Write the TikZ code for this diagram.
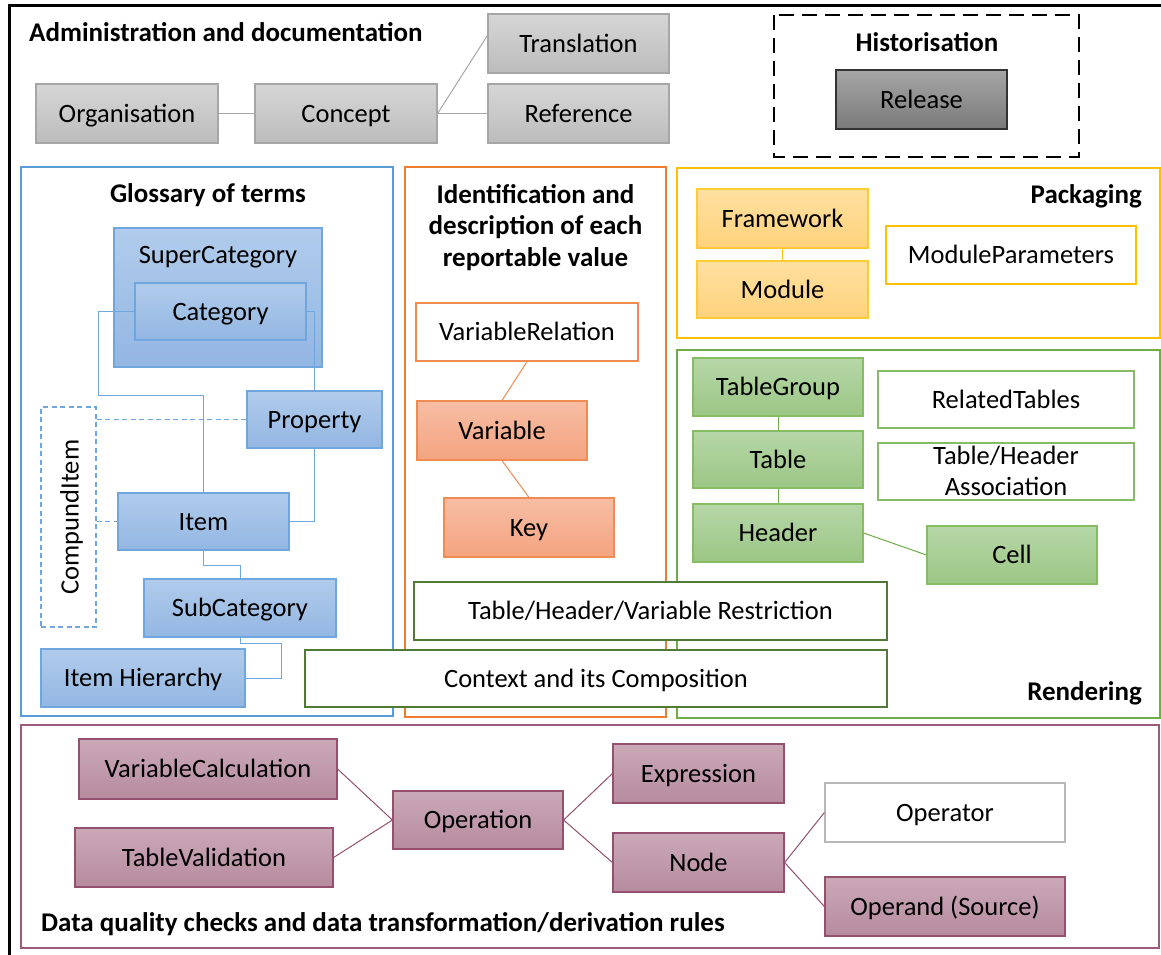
\documentclass[tikz,border=0pt]{standalone}
\usepackage{fontspec}
\setmainfont{Carlito}
\newcommand\boxfont{\fontsize{26.5}{31}\selectfont}
\newcommand\ttlfont{\fontsize{27}{31.5}\selectfont\bfseries}
\definecolor{grayT}{HTML}{D6D6D6}
\definecolor{grayB}{HTML}{BCBCBC}
\definecolor{grayL}{HTML}{A6A6A6}
\definecolor{relT}{HTML}{A5A5A5}
\definecolor{relB}{HTML}{7A7A7A}
\definecolor{blueG}{HTML}{5B9BD5}
\definecolor{blueT}{HTML}{B1CCEC}
\definecolor{blueB}{HTML}{93B6E2}
\definecolor{blueL}{HTML}{6FA6DE}
\definecolor{oraG}{HTML}{ED7D31}
\definecolor{oraT}{HTML}{F7BDA4}
\definecolor{oraB}{HTML}{F4A480}
\definecolor{oraL}{HTML}{F08C52}
\definecolor{yelG}{HTML}{FFC000}
\definecolor{yelT}{HTML}{FFE0A0}
\definecolor{yelB}{HTML}{FFD27C}
\definecolor{yelL}{HTML}{FFCA33}
\definecolor{grnG}{HTML}{70AD47}
\definecolor{grnT}{HTML}{B6D7A8}
\definecolor{grnB}{HTML}{9BC684}
\definecolor{grnL}{HTML}{86BD62}
\definecolor{grnD}{HTML}{507A35}
\definecolor{purG}{HTML}{9C5A7D}
\definecolor{purT}{HTML}{CBA9B7}
\definecolor{purB}{HTML}{B68B9E}
\definecolor{purL}{HTML}{955070}
\tikzset{
  box/.style={draw, inner sep=0pt, font=\boxfont, align=center, line width=1.2pt,
              text height=17pt, text depth=0pt},
  graybox/.style={box, draw=grayL, top color=grayT, bottom color=grayB},
  relbox/.style={box, draw=black!80, top color=relT, bottom color=relB},
  bluebox/.style={box, draw=blueL, top color=blueT, bottom color=blueB},
  orabox/.style={box, draw=oraL, top color=oraT, bottom color=oraB},
  yelbox/.style={box, draw=yelL, top color=yelT, bottom color=yelB},
  grnbox/.style={box, draw=grnL, top color=grnT, bottom color=grnB},
  purbox/.style={box, draw=purL, top color=purT, bottom color=purB},
  whitebox/.style={box, fill=white},
  ttl/.style={inner sep=0pt, font=\ttlfont, align=center, text height=17pt, text depth=0pt},
  txt/.style={inner sep=0pt, font=\boxfont, text height=17pt, text depth=0pt},
  group/.style={line width=2.2pt},
  conn/.style={line width=1pt},
  bdash/.style={conn, draw=blueL, dash pattern=on 5pt off 3.5pt},
}
\begin{document}
\begin{tikzpicture}[x=1pt,y=-1pt]
\useasboundingbox (0,0) rectangle (1161,954);
\fill[white] (0,0) rectangle (1161,954);
% outer frame
\draw[line width=3pt] (9,5) rectangle (1175,968);

% ---------- Administration ----------
\node[ttl, anchor=west] (admtitle) at (29,33) {Administration and documentation};
\node[graybox, minimum width=182, minimum height=59] (org) at (127,113.5) {Organisation};
\node[graybox, minimum width=182, minimum height=59] (concept) at (346,113.5) {Concept};
\node[graybox, minimum width=181, minimum height=59] (trans) at (578.5,43.5) {Translation};
\node[graybox, minimum width=181, minimum height=59] (ref) at (578.5,113.5) {Reference};
\draw[conn, grayL] (org.east) -- (concept.west);
\draw[conn, grayL] (concept.east) -- ([yshift=8pt]trans.west);
\draw[conn, grayL] (concept.east) -- (ref.west);

% ---------- Historisation ----------
\draw[line width=2.5pt, dash pattern=on 15pt off 8pt] (774,15) rectangle (1079,157);
\node[ttl] (histtitle) at (927,43) {Historisation};
\node[relbox, minimum width=171, minimum height=59] (release) at (921.5,99.5) {Release};

% ---------- Glossary ----------
\draw[group, blueG] (21,167) rectangle (393,716);
\node[ttl] (glotitle) at (208,194) {Glossary of terms};
\node[bluebox, minimum width=208, minimum height=139] (supcat) at (218,297.5) {};
\node[txt] (supcattxt) at (218,255) {SuperCategory};
\node[bluebox, minimum width=171, minimum height=57] (cat) at (220.5,311.5) {Category};
\node[bluebox, minimum width=135, minimum height=57] (prop) at (314.5,419.5) {Property};
\node[bluebox, minimum width=171, minimum height=57] (item) at (203.5,521.5) {Item};
\node[bluebox, minimum width=192, minimum height=58] (subcat) at (240,608) {SubCategory};
\node[bluebox, minimum width=204, minimum height=58] (ih) at (143,678) {Item Hierarchy};
\node[draw=blueL, line width=1.2pt, dash pattern=on 5pt off 3.5pt, inner sep=0pt,
      minimum width=55, minimum height=220] (ci) at (68.5,517) {};
\node[txt, rotate=90] (citxt) at (70,517) {CompundItem};
\draw[conn, blueL] (cat.west) -- ++(-36,0) -- ++(0,83.5) -| (item.north);
\draw[conn, blueL] (cat.east) -| (prop.north);
\draw[conn, blueL] (prop.south) |- (item.east);
\draw[conn, blueL] (item.south) -- ++(0,15) -| (subcat.north);
\draw[conn, blueL] (subcat.south) -- ++(0,6) -- ++(41,0) |- (ih.east);
\draw[bdash] (ci.east |- prop.west) -- (prop.west);
\draw[bdash] (ci.east |- item.west) -- (item.west);

% ---------- Identification ----------
\draw[group, oraG] (405,167) rectangle (666,717);
\node[ttl, text height=80pt] (idtitle) at (535.5,226) {Identification and\\description of each\\reportable value};
\node[whitebox, draw=oraL, minimum width=222, minimum height=58] (vr) at (527,332) {VariableRelation};
\node[orabox, minimum width=170, minimum height=59] (var) at (502,430.5) {Variable};
\node[orabox, minimum width=170, minimum height=59] (key) at (529,527.5) {Key};
\draw[conn, oraL] (vr.south) -- (var.north);
\draw[conn, oraL] (var.south) -- (key.north);

% ---------- Packaging ----------
\draw[group, yelG] (677,168) rectangle (1160,338);
\node[ttl, anchor=east] (packtitle) at (1142,195) {Packaging};
\node[yelbox, minimum width=171, minimum height=59] (fw) at (782.5,218.5) {Framework};
\node[yelbox, minimum width=171, minimum height=57] (mod) at (782.5,289.5) {Module};
\node[whitebox, draw=yelG, line width=2.6pt, minimum width=250, minimum height=58] (mp) at (1011,255) {ModuleParameters};
\draw[conn, yelG] (fw.south) -- (mod.north);

% ---------- Rendering ----------
\draw[group, grnG] (677,350) rectangle (1160,718);
\node[ttl, anchor=east] (rendtitle) at (1142,692) {Rendering};
\node[grnbox, minimum width=170, minimum height=58] (tg) at (778,387) {TableGroup};
\node[grnbox, minimum width=170, minimum height=57] (tab) at (778,459.5) {Table};
\node[grnbox, minimum width=170, minimum height=58] (hdr) at (778,533) {Header};
\node[whitebox, draw=grnL, minimum width=256, minimum height=57] (rt) at (1006,399.5) {RelatedTables};
\node[whitebox, draw=grnL, minimum width=256, minimum height=57, text height=48pt] (tha) at (1006,471.5) {Table/Header\\Association};
\node[grnbox, minimum width=170, minimum height=58] (cell) at (1012,555) {Cell};
\draw[conn, grnG] (tg.south) -- (tab.north);
\draw[conn, grnG] (tab.south) -- (hdr.north);
\draw[conn, grnG] (hdr.east) -- (cell.west);

% ---------- Shared boxes ----------
\node[whitebox, draw=grnD, minimum width=473, minimum height=58] (restr) at (650.5,611) {Table/Header/Variable Restriction};
\node[whitebox, draw=grnD, minimum width=582, minimum height=57] (ctx) at (596,678.5) {Context and its Composition};

% ---------- Data quality ----------
\draw[group, purG] (21,725) rectangle (1159,948);
\node[ttl, anchor=west] (dqtitle) at (41,923) {Data quality checks and data transformation/derivation rules};
\node[purbox, minimum width=258, minimum height=60] (vc) at (208,769) {VariableCalculation};
\node[purbox, minimum width=258, minimum height=59] (tv) at (204,857.5) {TableValidation};
\node[purbox, minimum width=170, minimum height=58] (op) at (478,820) {Operation};
\node[purbox, minimum width=171, minimum height=59] (expr) at (698.5,773.5) {Expression};
\node[purbox, minimum width=171, minimum height=59] (nd) at (698.5,862.5) {Node};
\node[whitebox, draw=grayL!80, minimum width=240, minimum height=59] (opr) at (945,812.5) {Operator};
\node[purbox, minimum width=240, minimum height=59] (opd) at (945,906.5) {Operand (Source)};
\draw[conn, purL] (vc.east) -- (op.west);
\draw[conn, purL] (tv.east) -- (op.west);
\draw[conn, purL] (op.east) -- (expr.west);
\draw[conn, purL] (op.east) -- (nd.west);
\draw[conn, purL] (nd.east) -- (opr.west);
\draw[conn, purL] (nd.east) -- (opd.west);
\end{tikzpicture}
\end{document}
